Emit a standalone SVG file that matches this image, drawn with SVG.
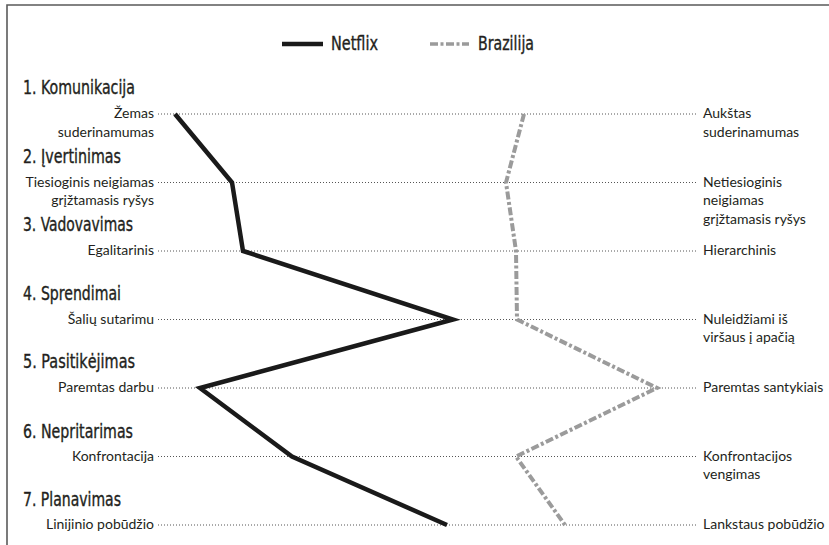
<svg xmlns="http://www.w3.org/2000/svg" width="829" height="545" viewBox="0 0 829 545">
<style>
.frame{fill:none;stroke:#5a5a5a;stroke-width:1.6}
.dot{stroke:#555;stroke-width:1;stroke-dasharray:1 2;fill:none}
.head{font-family:"DejaVu Sans Condensed","DejaVu Sans","Liberation Sans",sans-serif;font-stretch:condensed;font-size:19px;fill:#231f20;stroke:#231f20;stroke-width:0.35}
.lab{font-family:Lato,"Open Sans",sans-serif;font-size:14px;fill:#231f20}
.l{text-anchor:end}
.nf{fill:none;stroke:#1a1a1a;stroke-width:4.5;stroke-linejoin:miter;stroke-miterlimit:10}
.br{fill:none;stroke:#9b9b9b;stroke-width:4;stroke-dasharray:8 2.5 3 2.5;stroke-linejoin:miter}
</style>
<rect width="829" height="545" fill="#fff"/>
<path class="frame" d="M7,545 V5 H829"/>
<g id="legend">
<line x1="282" y1="44" x2="323" y2="44" stroke="#1a1a1a" stroke-width="4.5"/>
<text class="head" x="331" y="50" textLength="47" lengthAdjust="spacingAndGlyphs">Netflix</text>
<line x1="430" y1="44" x2="469" y2="44" stroke="#9b9b9b" stroke-width="3.5" stroke-dasharray="8 2.5 3 2.5"/>
<text class="head" x="478" y="50" textLength="56" lengthAdjust="spacingAndGlyphs">Brazilija</text>
</g>
<g id="grid">
<line class="dot" x1="158" y1="114" x2="696" y2="114"/>
<line class="dot" x1="158" y1="182.5" x2="696" y2="182.5"/>
<line class="dot" x1="158" y1="251" x2="696" y2="251"/>
<line class="dot" x1="158" y1="319.5" x2="696" y2="319.5"/>
<line class="dot" x1="158" y1="388" x2="696" y2="388"/>
<line class="dot" x1="158" y1="456.5" x2="696" y2="456.5"/>
<line class="dot" x1="158" y1="525" x2="696" y2="525"/>
</g>
<g id="row1">
<text class="head" x="23" y="94" textLength="112" lengthAdjust="spacingAndGlyphs">1. Komunikacija</text>
<text class="lab l" x="154" y="118">Žemas</text>
<text class="lab l" x="154" y="136.5">suderinamumas</text>
<text class="lab" x="703" y="118">Aukštas</text>
<text class="lab" x="703" y="136.5">suderinamumas</text>
</g>
<g id="row2">
<text class="head" x="23" y="162.5" textLength="98" lengthAdjust="spacingAndGlyphs">2. Įvertinimas</text>
<text class="lab l" x="154" y="186.5">Tiesioginis neigiamas</text>
<text class="lab l" x="154" y="205">grįžtamasis ryšys</text>
<text class="lab" x="703" y="186.5">Netiesioginis</text>
<text class="lab" x="703" y="205">neigiamas</text>
<text class="lab" x="703" y="223.5">grįžtamasis ryšys</text>
</g>
<g id="row3">
<text class="head" x="23" y="231" textLength="110" lengthAdjust="spacingAndGlyphs">3. Vadovavimas</text>
<text class="lab l" x="154" y="255">Egalitarinis</text>
<text class="lab" x="703" y="255">Hierarchinis</text>
</g>
<g id="row4">
<text class="head" x="23" y="299.5" textLength="98" lengthAdjust="spacingAndGlyphs">4. Sprendimai</text>
<text class="lab l" x="154" y="323.5">Šalių sutarimu</text>
<text class="lab" x="703" y="323.5">Nuleidžiami iš</text>
<text class="lab" x="703" y="342">viršaus į apačią</text>
</g>
<g id="row5">
<text class="head" x="23" y="368" textLength="112" lengthAdjust="spacingAndGlyphs">5. Pasitikėjimas</text>
<text class="lab l" x="154" y="392">Paremtas darbu</text>
<text class="lab" x="703" y="392">Paremtas santykiais</text>
</g>
<g id="row6">
<text class="head" x="23" y="437.5" textLength="110" lengthAdjust="spacingAndGlyphs">6. Nepritarimas</text>
<text class="lab l" x="154" y="460.5">Konfrontacija</text>
<text class="lab" x="703" y="460.5">Konfrontacijos</text>
<text class="lab" x="703" y="479">vengimas</text>
</g>
<g id="row7">
<text class="head" x="23" y="506" textLength="98" lengthAdjust="spacingAndGlyphs">7. Planavimas</text>
<text class="lab l" x="154" y="529">Linijinio pobūdžio</text>
<text class="lab" x="703" y="529">Lankstaus pobūdžio</text>
</g>
<g id="connectors">
<polyline id="netflix" class="nf" points="175,114 232,182.5 243,251 453,319.5 200,388 292,456.5 447,525"/>
<polyline id="brazilija" class="br" points="524,114 506,182.5 516,251 517,319.5 657,388 516,456.5 565,525"/>
</g>
</svg>
